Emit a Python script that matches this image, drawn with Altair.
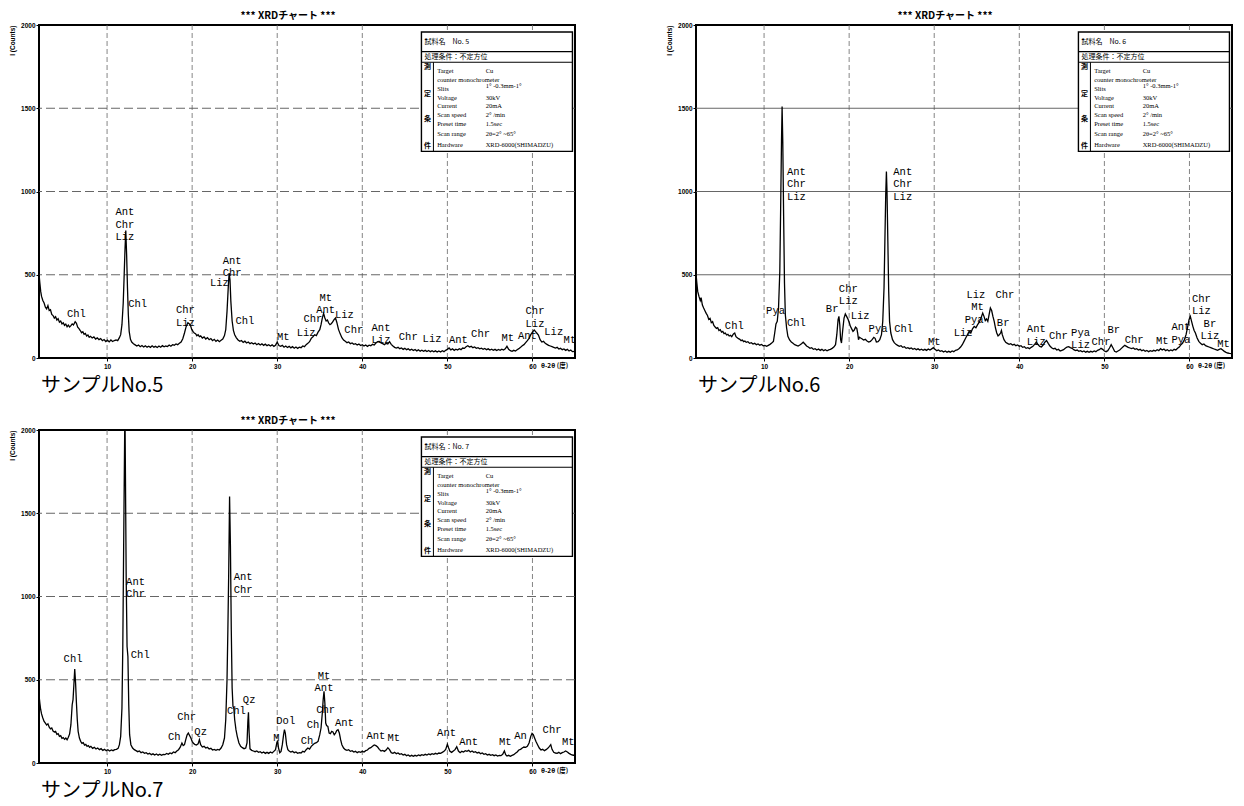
import altair as alt
import pandas as pd

# ---------------- measured XRD patterns (2theta [deg], intensity [counts]) ----------------
no5 = [(2.0,505),(2.1,450),(2.2,400),(2.3,370),(2.45,345),(2.6,330),(2.75,305),(2.9,295),(3.05,315),(3.2,285),(3.35,290),(3.5,262),(3.65,255),(3.8,240),(3.95,248),(4.1,228),(4.25,236),(4.4,215),(4.55,222),(4.7,205),(4.85,212),(5.0,196),(5.15,204),(5.3,188),(5.45,198),(5.6,186),(5.75,194),(5.9,205),(6.05,198),(6.25,218),(6.4,208),(6.55,185),(6.7,176),(6.85,165),(7.0,152),(7.15,158),(7.3,142),(7.45,147),(7.6,132),(7.75,138),(7.9,124),(8.05,130),(8.25,120),(8.45,127),(8.65,114),(8.85,121),(9.05,110),(9.25,116),(9.45,104),(9.65,111),(9.85,99),(10.05,107),(10.25,97),(10.45,108),(10.65,99),(10.85,105),(11.05,108),(11.25,104),(11.45,122),(11.6,140),(11.75,200),(11.9,330),(12.0,480),(12.1,640),(12.2,765),(12.3,620),(12.4,420),(12.5,260),(12.6,160),(12.75,112),(12.9,96),(13.1,86),(13.3,79),(13.5,72),(13.7,78),(13.9,68),(14.1,75),(14.3,66),(14.5,73),(14.7,65),(14.9,71),(15.1,64),(15.3,73),(15.5,65),(15.7,70),(15.9,63),(16.1,72),(16.3,65),(16.5,74),(16.7,67),(16.9,72),(17.1,69),(17.3,78),(17.5,71),(17.7,80),(17.9,77),(18.1,84),(18.3,80),(18.5,88),(18.7,96),(18.9,116),(19.1,150),(19.3,190),(19.5,212),(19.65,206),(19.8,196),(19.95,172),(20.1,160),(20.25,150),(20.4,146),(20.55,134),(20.7,140),(20.85,128),(21.0,133),(21.2,120),(21.4,127),(21.6,114),(21.8,122),(22.0,110),(22.2,117),(22.4,104),(22.6,112),(22.8,100),(23.0,108),(23.2,98),(23.4,106),(23.6,114),(23.8,135),(23.95,170),(24.1,280),(24.25,430),(24.35,510),(24.45,470),(24.55,340),(24.7,222),(24.85,166),(25.0,140),(25.2,121),(25.4,108),(25.6,100),(25.8,105),(26.0,94),(26.2,101),(26.4,90),(26.6,96),(26.8,86),(27.0,92),(27.2,84),(27.4,90),(27.6,80),(27.8,87),(28.0,78),(28.2,85),(28.4,76),(28.6,83),(28.8,74),(29.0,80),(29.2,72),(29.4,79),(29.6,70),(29.8,77),(30.0,95),(30.2,75),(30.4,70),(30.6,76),(30.8,65),(31.0,72),(31.2,63),(31.4,70),(31.6,61),(31.8,68),(32.0,59),(32.2,66),(32.4,58),(32.6,65),(32.8,62),(33.0,72),(33.2,68),(33.4,80),(33.6,88),(33.8,98),(34.0,118),(34.2,128),(34.4,140),(34.6,135),(34.8,155),(35.0,170),(35.15,200),(35.3,240),(35.45,268),(35.6,240),(35.75,222),(35.9,228),(36.05,210),(36.2,200),(36.35,206),(36.5,215),(36.7,232),(36.85,240),(37.0,215),(37.2,172),(37.4,145),(37.6,122),(37.8,108),(38.0,100),(38.2,92),(38.4,96),(38.6,86),(38.8,90),(39.0,82),(39.2,86),(39.4,78),(39.6,84),(39.8,75),(40.0,80),(40.2,72),(40.4,78),(40.6,70),(40.8,77),(41.0,74),(41.2,82),(41.4,78),(41.6,90),(41.8,98),(42.0,100),(42.2,90),(42.4,86),(42.6,80),(42.8,88),(43.0,84),(43.2,98),(43.4,82),(43.6,72),(43.8,64),(44.0,60),(44.2,64),(44.4,56),(44.6,60),(44.8,52),(45.0,58),(45.2,50),(45.4,55),(45.6,47),(45.8,53),(46.0,45),(46.2,51),(46.4,43),(46.6,49),(46.8,41),(47.0,47),(47.2,40),(47.4,46),(47.6,39),(47.8,45),(48.0,38),(48.2,44),(48.4,37),(48.6,43),(48.8,36),(49.0,42),(49.2,36),(49.4,44),(49.6,38),(49.8,46),(50.0,52),(50.2,60),(50.4,48),(50.6,55),(50.8,46),(51.0,53),(51.2,48),(51.4,56),(51.6,50),(51.8,60),(52.0,58),(52.2,68),(52.4,74),(52.6,66),(52.8,70),(53.0,62),(53.2,66),(53.4,58),(53.6,62),(53.8,55),(54.0,59),(54.2,52),(54.4,57),(54.6,50),(54.8,55),(55.0,48),(55.2,53),(55.4,46),(55.6,52),(55.8,45),(56.0,51),(56.2,46),(56.4,53),(56.6,48),(56.8,55),(57.0,70),(57.2,52),(57.4,44),(57.6,40),(57.8,46),(58.0,42),(58.2,50),(58.4,56),(58.6,64),(58.8,74),(59.0,80),(59.2,92),(59.4,104),(59.6,118),(59.8,140),(60.0,155),(60.2,168),(60.35,160),(60.5,150),(60.7,138),(60.9,110),(61.1,96),(61.3,100),(61.5,88),(61.7,82),(61.9,76),(62.1,72),(62.3,68),(62.5,64),(62.7,60),(62.9,64),(63.1,54),(63.3,58),(63.5,50),(63.7,54),(63.9,46),(64.1,52),(64.3,42),(64.5,48),(64.7,38),(65.0,40)]

no6 = [(2.0,505),(2.1,450),(2.2,400),(2.35,370),(2.5,345),(2.6,362),(2.75,318),(2.9,300),(3.05,284),(3.2,268),(3.35,255),(3.5,232),(3.65,238),(3.8,212),(3.95,218),(4.1,195),(4.25,186),(4.4,178),(4.55,182),(4.7,165),(4.85,170),(5.0,156),(5.15,160),(5.3,146),(5.45,150),(5.6,138),(5.75,142),(5.9,132),(6.05,136),(6.2,128),(6.4,145),(6.55,150),(6.7,128),(6.85,122),(7.0,116),(7.15,112),(7.3,104),(7.45,108),(7.6,98),(7.75,102),(7.9,94),(8.1,98),(8.3,88),(8.5,92),(8.7,84),(8.9,88),(9.1,80),(9.3,84),(9.5,77),(9.7,81),(9.9,73),(10.1,76),(10.3,70),(10.5,76),(10.7,82),(10.9,90),(11.1,100),(11.25,150),(11.4,205),(11.55,220),(11.7,300),(11.85,520),(11.95,900),(12.05,1300),(12.12,1510),(12.2,1300),(12.3,850),(12.4,450),(12.5,260),(12.65,180),(12.8,130),(13.0,108),(13.2,96),(13.4,88),(13.6,80),(13.8,76),(14.0,72),(14.2,78),(14.4,86),(14.6,95),(14.8,84),(15.0,72),(15.2,66),(15.4,58),(15.6,62),(15.8,52),(16.0,56),(16.2,48),(16.4,54),(16.6,46),(16.8,52),(17.0,44),(17.2,50),(17.4,43),(17.6,49),(17.8,52),(18.0,58),(18.2,66),(18.4,80),(18.55,140),(18.7,230),(18.8,250),(18.9,200),(19.0,110),(19.1,90),(19.25,170),(19.4,240),(19.55,265),(19.7,250),(19.85,235),(20.0,215),(20.15,190),(20.3,175),(20.45,160),(20.6,168),(20.75,185),(20.9,178),(21.0,150),(21.1,110),(21.2,125),(21.35,120),(21.5,116),(21.7,108),(21.9,112),(22.1,102),(22.3,96),(22.5,100),(22.7,110),(22.9,124),(23.05,118),(23.2,96),(23.4,98),(23.6,110),(23.8,140),(23.95,220),(24.1,420),(24.2,700),(24.3,980),(24.38,1120),(24.45,1000),(24.55,700),(24.65,400),(24.75,220),(24.9,150),(25.1,110),(25.3,92),(25.5,82),(25.7,76),(25.9,70),(26.1,74),(26.3,64),(26.5,68),(26.7,58),(26.9,62),(27.1,56),(27.3,60),(27.5,52),(27.7,57),(27.9,50),(28.1,55),(28.3,48),(28.5,53),(28.7,46),(28.9,52),(29.1,46),(29.3,54),(29.5,48),(29.7,55),(29.9,62),(30.1,52),(30.3,44),(30.5,48),(30.7,40),(30.9,44),(31.1,36),(31.3,42),(31.5,34),(31.7,40),(31.9,35),(32.1,42),(32.3,38),(32.5,46),(32.7,48),(32.9,56),(33.1,66),(33.3,80),(33.5,100),(33.7,120),(33.9,140),(34.1,160),(34.3,150),(34.5,175),(34.7,190),(34.9,182),(35.1,200),(35.3,215),(35.5,240),(35.7,270),(35.85,250),(36.0,225),(36.15,235),(36.3,220),(36.45,260),(36.6,300),(36.75,285),(36.9,250),(37.05,220),(37.2,180),(37.35,150),(37.5,133),(37.65,140),(37.8,150),(37.9,165),(38.0,140),(38.2,110),(38.4,94),(38.6,88),(38.8,82),(39.0,86),(39.2,78),(39.4,82),(39.6,74),(39.8,78),(40.0,70),(40.2,74),(40.4,64),(40.6,68),(40.8,58),(41.0,62),(41.2,56),(41.4,64),(41.6,70),(41.8,82),(42.0,95),(42.2,80),(42.4,70),(42.6,66),(42.8,78),(43.0,95),(43.2,105),(43.4,88),(43.6,72),(43.8,62),(44.0,55),(44.2,58),(44.4,48),(44.6,52),(44.8,42),(45.0,46),(45.2,50),(45.4,58),(45.6,66),(45.8,68),(46.0,62),(46.2,58),(46.4,50),(46.6,45),(46.8,48),(47.0,40),(47.2,44),(47.4,37),(47.6,42),(47.8,35),(48.0,40),(48.2,34),(48.4,40),(48.6,36),(48.8,42),(49.0,38),(49.2,46),(49.4,50),(49.6,58),(49.8,52),(50.0,42),(50.2,38),(50.4,44),(50.6,60),(50.8,80),(51.0,62),(51.2,40),(51.4,36),(51.6,42),(51.8,48),(52.0,58),(52.2,68),(52.4,76),(52.6,70),(52.8,64),(53.0,60),(53.2,56),(53.4,60),(53.6,52),(53.8,56),(54.0,48),(54.2,52),(54.4,44),(54.6,48),(54.8,40),(55.0,45),(55.2,38),(55.4,44),(55.6,40),(55.8,46),(56.0,42),(56.2,50),(56.4,44),(56.6,56),(56.8,48),(57.0,54),(57.2,44),(57.4,50),(57.6,42),(57.8,48),(58.0,44),(58.2,52),(58.4,48),(58.6,58),(58.8,66),(59.0,80),(59.2,90),(59.4,110),(59.6,140),(59.8,190),(59.95,230),(60.1,250),(60.25,220),(60.4,190),(60.55,165),(60.7,150),(60.9,120),(61.1,100),(61.3,88),(61.5,80),(61.7,84),(61.9,74),(62.1,70),(62.3,66),(62.5,62),(62.7,58),(62.9,54),(63.1,50),(63.3,46),(63.5,52),(63.7,56),(63.9,48),(64.1,40),(64.3,34),(64.5,30),(64.7,28),(65.0,26)]

no7 = [(2.0,410),(2.1,360),(2.2,320),(2.3,295),(2.45,270),(2.6,250),(2.75,240),(2.9,228),(3.05,235),(3.2,215),(3.35,205),(3.5,210),(3.65,192),(3.8,186),(3.95,190),(4.1,172),(4.25,176),(4.4,160),(4.55,164),(4.7,148),(4.85,152),(5.0,142),(5.15,150),(5.3,140),(5.45,155),(5.6,175),(5.75,230),(5.9,350),(6.0,380),(6.1,470),(6.2,565),(6.3,480),(6.4,360),(6.5,260),(6.6,190),(6.75,150),(6.9,130),(7.05,118),(7.2,122),(7.35,108),(7.5,112),(7.65,100),(7.8,105),(7.95,94),(8.1,100),(8.3,88),(8.5,94),(8.7,84),(8.9,90),(9.1,80),(9.3,86),(9.5,76),(9.7,82),(9.9,74),(10.1,80),(10.3,72),(10.5,78),(10.7,74),(10.9,80),(11.1,82),(11.3,88),(11.45,110),(11.6,160),(11.75,330),(11.85,700),(11.95,1300),(12.1,2150),(12.25,1100),(12.35,700),(12.45,640),(12.55,350),(12.65,170),(12.8,110),(13.0,90),(13.2,80),(13.4,74),(13.6,68),(13.8,72),(14.0,62),(14.2,66),(14.4,58),(14.6,62),(14.8,54),(15.0,58),(15.2,50),(15.4,55),(15.6,48),(15.8,54),(16.0,47),(16.2,53),(16.4,46),(16.6,52),(16.8,50),(17.0,57),(17.2,52),(17.4,60),(17.6,56),(17.8,66),(18.0,62),(18.2,72),(18.4,80),(18.6,95),(18.8,120),(18.95,105),(19.1,110),(19.25,140),(19.4,168),(19.55,180),(19.7,165),(19.85,150),(20.0,130),(20.15,118),(20.3,112),(20.5,108),(20.7,115),(20.85,140),(21.0,110),(21.2,96),(21.4,100),(21.6,90),(21.8,94),(22.0,84),(22.2,88),(22.4,78),(22.6,82),(22.8,76),(23.0,82),(23.2,78),(23.4,90),(23.6,110),(23.8,150),(23.95,260),(24.1,500),(24.2,800),(24.3,1150),(24.4,1600),(24.5,1300),(24.6,800),(24.7,450),(24.8,340),(24.9,330),(25.0,260),(25.15,200),(25.3,160),(25.5,120),(25.7,100),(25.9,92),(26.1,86),(26.3,90),(26.45,120),(26.55,250),(26.62,305),(26.7,180),(26.8,85),(27.0,76),(27.2,72),(27.4,68),(27.6,72),(27.8,64),(28.0,68),(28.2,60),(28.4,66),(28.6,58),(28.8,64),(29.0,58),(29.2,66),(29.4,60),(29.6,70),(29.8,80),(29.95,120),(30.05,135),(30.15,90),(30.3,62),(30.45,70),(30.6,110),(30.75,170),(30.85,200),(30.95,180),(31.1,110),(31.25,80),(31.4,72),(31.6,66),(31.8,70),(32.0,62),(32.2,66),(32.4,58),(32.6,62),(32.8,60),(33.0,70),(33.2,66),(33.4,80),(33.6,90),(33.8,84),(34.0,100),(34.2,110),(34.4,118),(34.6,122),(34.8,130),(35.0,170),(35.15,210),(35.3,300),(35.4,380),(35.5,430),(35.6,360),(35.7,240),(35.8,225),(35.95,220),(36.1,180),(36.25,176),(36.4,190),(36.55,186),(36.7,170),(36.85,180),(37.0,195),(37.15,200),(37.3,180),(37.45,140),(37.6,110),(37.8,90),(38.0,80),(38.2,76),(38.4,80),(38.6,70),(38.8,74),(39.0,66),(39.2,70),(39.4,62),(39.6,68),(39.8,64),(40.0,70),(40.2,66),(40.4,74),(40.6,78),(40.8,88),(41.0,92),(41.2,100),(41.4,108),(41.6,104),(41.8,96),(42.0,82),(42.2,72),(42.4,76),(42.6,70),(42.8,78),(43.0,92),(43.2,80),(43.4,62),(43.6,58),(43.8,64),(44.0,56),(44.2,60),(44.4,52),(44.6,56),(44.8,48),(45.0,52),(45.2,44),(45.4,48),(45.6,40),(45.8,46),(46.0,40),(46.2,46),(46.4,42),(46.6,48),(46.8,44),(47.0,50),(47.2,46),(47.4,52),(47.6,48),(47.8,54),(48.0,50),(48.2,56),(48.4,52),(48.6,58),(48.8,54),(49.0,60),(49.2,58),(49.4,64),(49.6,70),(49.8,82),(50.0,112),(50.15,90),(50.3,70),(50.5,64),(50.7,72),(50.9,80),(51.1,98),(51.3,72),(51.5,62),(51.7,70),(51.9,66),(52.1,74),(52.3,70),(52.5,76),(52.7,66),(52.9,72),(53.1,64),(53.3,68),(53.5,60),(53.7,64),(53.9,56),(54.1,60),(54.3,52),(54.5,56),(54.7,48),(54.9,52),(55.1,46),(55.3,50),(55.5,44),(55.7,48),(55.9,42),(56.1,46),(56.3,44),(56.5,52),(56.7,72),(56.85,50),(57.0,42),(57.2,46),(57.4,40),(57.6,46),(57.8,50),(58.0,58),(58.2,66),(58.4,78),(58.6,82),(58.8,90),(59.0,96),(59.2,94),(59.4,100),(59.6,120),(59.8,160),(59.95,178),(60.1,170),(60.25,150),(60.4,130),(60.6,110),(60.8,90),(61.0,78),(61.2,82),(61.4,74),(61.6,80),(61.8,88),(62.0,100),(62.15,110),(62.3,82),(62.5,64),(62.7,60),(62.9,58),(63.1,64),(63.3,56),(63.5,62),(63.7,66),(63.9,72),(64.1,66),(64.3,58),(64.5,52),(64.7,48),(65.0,45)]

# ---------------- peak identification labels ----------------
lab5_text = ["Ant\nChr\nLiz", "Chl", "Chl", "Chr\nLiz", "Ant\nChr", "Liz", "Chl", "Mt", "Chr", "Liz", "Mt\nAnt", "Liz", "Chr",
             "Ant\nLiz", "Chr", "Liz", "Ant", "Chr", "Mt", "Chr\nLiz", "Ant", "Liz", "Mt"]
lab5_x = [12.1, 6.4, 13.6, 19.2, 24.7, 23.2, 26.2, 30.7, 34.2, 33.4, 35.7, 37.9, 39.0, 42.2, 45.4, 48.2, 51.3, 53.9, 57.1, 60.3, 59.4, 62.5, 64.4]
lab5_y = [876, 265, 327, 286, 584, 451, 225, 127, 235, 151, 361, 259, 167, 182, 127, 112, 108, 143, 123, 280, 135, 157, 108]

lab6_text = ["Ant\nChr\nLiz", "Ant\nChr\nLiz", "Chl", "Pya", "Chl", "Br", "Chr\nLiz", "Liz", "Pya", "Chl", "Mt", "Liz", "Chr", "Mt",
             "Pya", "Liz", "Br", "Ant\nLiz", "Chr", "Pya\nLiz", "Br", "Chr", "Chr", "Mt", "Ant\nPya", "Chr\nLiz", "Br\nLiz", "Mt"]
lab6_x = [13.8, 26.3, 6.5, 11.35, 13.8, 18.0, 19.9, 21.3, 23.4, 26.4, 30.0, 34.9, 38.3, 35.1, 34.7, 33.4, 38.1, 42.0, 44.6, 47.2, 51.1, 49.6, 53.5, 56.8, 59.0, 61.4, 62.4, 64.0]
lab6_y = [1118, 1118, 192, 280, 212, 295, 415, 251, 172, 176, 94, 378, 378, 306, 231, 149, 208, 174, 133, 153, 169, 98, 108, 100, 184, 355, 205, 82]

lab7_text = ["Chl", "Ant\nChr", "Chl", "Ant\nChr", "Chr", "Ch", "Qz", "Chl", "Qz", "M", "Dol", "Ch", "Ch", "Chr", "Mt\nAnt",
             "Ant", "Ant", "Mt", "Ant", "Ant", "Mt", "An", "Chr", "Mt"]
lab7_x = [6.0, 13.35, 13.9, 26.0, 19.35, 17.9, 21.0, 25.2, 26.7, 29.9, 31.0, 33.5, 34.2, 35.7, 35.5, 37.9, 41.6, 43.7, 49.9, 52.5, 56.8, 58.6, 62.3, 64.2]
lab7_y = [627, 1090, 646, 1115, 276, 158, 187, 315, 381, 148, 251, 134, 228, 319, 523, 241, 163, 148, 179, 128, 125, 163, 197, 125]

# ---------------- axes / grid ----------------
X_TICKS = [10, 20, 30, 40, 50, 60]
Y_TICKS = [0, 500, 1000, 1500, 2000]
GRID_X = [10, 20, 30, 40, 50, 60]
GRID_Y = [500, 1000, 1500]

# ---------------- measurement-condition box (same for all samples) ----------------
cond_names = ["Target", "counter monochrometer", "Slits", "Voltage", "Current", "Scan speed", "Preset time", "Scan range", "Hardware"]
cond_name_y = [1723, 1670, 1617, 1564, 1511, 1458, 1405, 1347, 1282]
cond_values = ["Cu", "1° -0.3mm-1°", "30kV", "20mA", "2° /min", "1.5sec", "2θ=2° ~65°", "XRD-6000(SHIMADZU)"]
cond_value_y = [1723, 1635, 1564, 1511, 1458, 1405, 1347, 1282]
side_chars = ["測", "定", "条", "件"]
side_y = [1746, 1588, 1435, 1276]
BOX_X = (46.95, 64.7)
BOX_Y = (1241, 1958)
ROW_Y = (1840, 1776)
DIV_X = 48.36

W, H = 536, 333
XS = alt.Scale(domain=[2, 65], nice=False, zero=False)
YS = alt.Scale(domain=[0, 2000], nice=False, zero=False)
SERIF = "Liberation Serif"
JP = "Noto Sans CJK JP"

XAX = alt.Axis(values=X_TICKS, title=None, grid=False, domain=False, labelFont="Liberation Sans",
               labelFontSize=6.5, labelFontWeight="bold", labelColor="black", tickColor="black",
               tickSize=3, labelPadding=2, labelFlush=False, format="d")
YAX = alt.Axis(values=Y_TICKS, title="I (Counts)", titleAnchor="end", titleFont="Liberation Sans",
               titleFontSize=6.5, titleFontWeight="bold", titleColor="black", titlePadding=5,
               grid=False, domain=False, labelFont="Liberation Sans", labelFontSize=6.5,
               labelFontWeight="bold", labelColor="black", tickColor="black", tickSize=3, labelPadding=1,
               labelFlush=False, format="d")


def X(field):
    return alt.X(field, scale=XS, axis=XAX)


def Y(field):
    return alt.Y(field, scale=YS, axis=YAX)


def panel(series, lt, lx, ly, sample_label, sample_field, solid_h=False):
    df = pd.DataFrame(series, columns=["tt", "cnt"])

    gx = alt.Chart(pd.DataFrame({"g": GRID_X})).mark_rule(color="#666", strokeWidth=0.8, strokeDash=[5, 3]).encode(
        x=X("g:Q"))
    if solid_h:
        gy = alt.Chart(pd.DataFrame({"g": GRID_Y})).mark_rule(color="#555", strokeWidth=0.9).encode(y=Y("g:Q"))
    else:
        gy = alt.Chart(pd.DataFrame({"g": GRID_Y})).mark_rule(color="#555", strokeWidth=0.9,
                                                              strokeDash=[9, 4]).encode(y=Y("g:Q"))

    line = alt.Chart(df).mark_line(color="black", strokeWidth=1.3, clip=True).encode(x=X("tt:Q"), y=Y("cnt:Q"))

    labs = alt.Chart(pd.DataFrame({"t": lt, "x": lx, "y": ly})).mark_text(
        font="Liberation Mono", fontSize=10.5, lineBreak="\n", lineHeight=12.5, align="center",
        baseline="middle", color="black").encode(x=X("x:Q"), y=Y("y:Q"), text="t:N")

    # condition box
    box = alt.Chart(pd.DataFrame({"x0": [BOX_X[0]], "x1": [BOX_X[1]], "y0": [BOX_Y[0]], "y1": [BOX_Y[1]]})).mark_rect(
        fill="white", stroke="black", strokeWidth=1.4).encode(x=X("x0:Q"), x2="x1", y=Y("y0:Q"), y2="y1")
    hrules = alt.Chart(pd.DataFrame({"x0": [BOX_X[0]] * 2, "x1": [BOX_X[1]] * 2, "y": list(ROW_Y)})).mark_rule(
        color="black", strokeWidth=1.1).encode(x=X("x0:Q"), x2="x1", y=Y("y:Q"))
    vrule = alt.Chart(pd.DataFrame({"x": [DIV_X], "y0": [BOX_Y[0]], "y1": [ROW_Y[1]]})).mark_rule(
        color="black", strokeWidth=1.0).encode(x=X("x:Q"), y=Y("y0:Q"), y2="y1")
    head = alt.Chart(pd.DataFrame({"t": [sample_field, "処理条件：不定方位"], "x": [47.3, 47.3], "y": [1898, 1808]})).mark_text(
        font=JP, fontSize=7, align="left", baseline="middle", color="black").encode(
        x=X("x:Q"), y=Y("y:Q"), text="t:N")
    side = alt.Chart(pd.DataFrame({"t": side_chars, "x": [47.65] * 4, "y": side_y})).mark_text(
        font=JP, fontSize=7, fontWeight="bold", align="center", baseline="middle", color="black").encode(
        x=X("x:Q"), y=Y("y:Q"), text="t:N")
    names = alt.Chart(pd.DataFrame({"t": cond_names, "x": [48.8] * len(cond_names), "y": cond_name_y})).mark_text(
        font=SERIF, fontSize=6.5, align="left", baseline="middle", color="black").encode(
        x=X("x:Q"), y=Y("y:Q"), text="t:N")
    vals = alt.Chart(pd.DataFrame({"t": cond_values, "x": [54.5] * len(cond_values), "y": cond_value_y})).mark_text(
        font=SERIF, fontSize=6.5, align="left", baseline="middle", color="black").encode(
        x=X("x:Q"), y=Y("y:Q"), text="t:N")

    xtitle = alt.Chart(pd.DataFrame({"t": ["θ-2θ (度)"], "x": [61.0]})).mark_text(
        font=JP, fontSize=6.5, fontWeight="bold", align="left", baseline="middle", color="black").encode(
        x=X("x:Q"), y=alt.value(H + 8), text="t:N")
    samp = alt.Chart(pd.DataFrame({"t": [sample_label]})).mark_text(
        font=JP, fontSize=20, align="left", baseline="middle", color="black").encode(
        x=alt.value(2), y=alt.value(H + 28), text="t:N")

    return alt.layer(gx, gy, line, labs, box, hrules, vrule, head, side, names, vals, xtitle, samp).properties(
        width=W, height=H,
        title=alt.TitleParams("*** XRDチャート ***", font=JP, fontSize=10, fontWeight="bold", color="black",
                              anchor="middle", dx=-19, offset=1))


p5 = panel(no5, lab5_text, lab5_x, lab5_y, "サンプルNo.5", "試料名　No. 5")
p6 = panel(no6, lab6_text, lab6_x, lab6_y, "サンプルNo.6", "試料名　No. 6", solid_h=True)
p7 = panel(no7, lab7_text, lab7_x, lab7_y, "サンプルNo.7", "試料名：No. 7")

chart = alt.concat(p5, p6, p7, columns=2, spacing={"row": 72, "column": 121}, bounds="flush").properties(
    padding={"left": 0, "top": 2, "right": 0, "bottom": 0}, background="white"
).configure_view(stroke="black", strokeWidth=2)

chart.save("out.html", embed_options={"renderer": "svg", "actions": False})
